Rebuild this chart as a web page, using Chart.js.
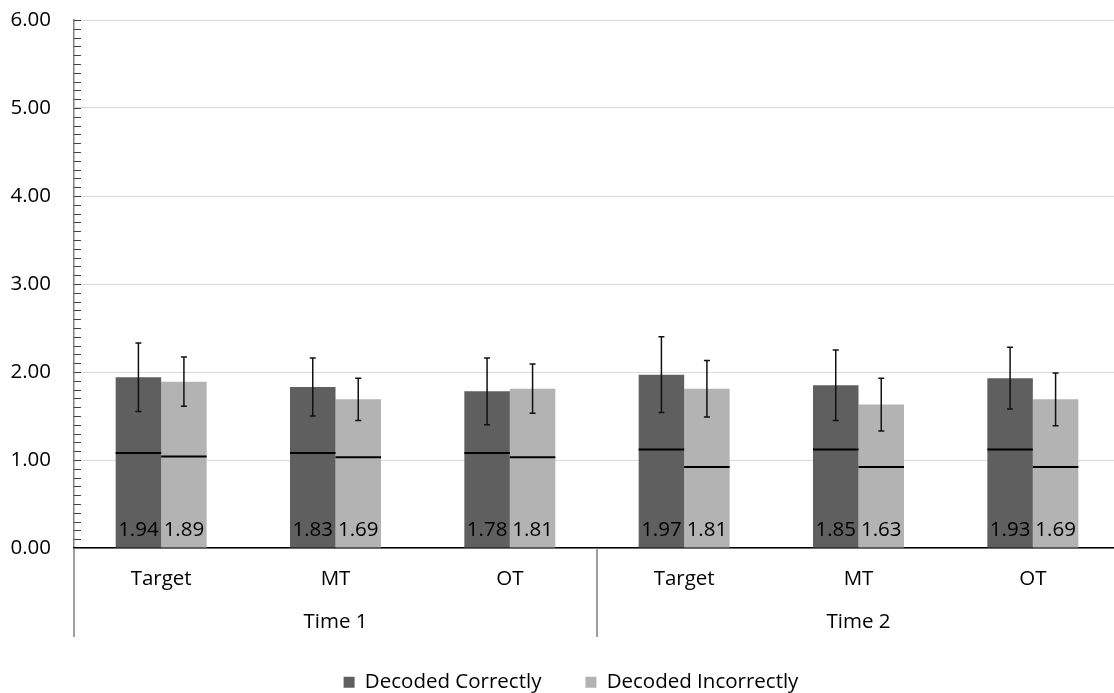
<!DOCTYPE html>
<html>
<head>
<meta charset="utf-8">
<script src="https://cdn.jsdelivr.net/npm/chart.js@4.4.1/dist/chart.umd.min.js"></script>
<style>
  html, body { margin: 0; padding: 0; overflow: hidden; background: #fff; }
  #wrap { width: 1140px; height: 693px; }
</style>
</head>
<body>
<div id="wrap"><canvas id="chart"></canvas></div>
<script>
var categories = ['Target', 'MT', 'OT', 'Target', 'MT', 'OT'];
var groups = ['Time 1', 'Time 2'];
var yTicks = [0, 1, 2, 3, 4, 5, 6];

var correct = [1.94, 1.83, 1.78, 1.97, 1.85, 1.93];
var incorrect = [1.89, 1.69, 1.81, 1.81, 1.63, 1.69];
var correctErr = [0.39, 0.33, 0.38, 0.43, 0.40, 0.35];
var incorrectErr = [0.28, 0.24, 0.28, 0.32, 0.30, 0.30];
var correctLine = [1.08, 1.08, 1.08, 1.12, 1.12, 1.12];
var incorrectLine = [1.04, 1.03, 1.03, 0.92, 0.92, 0.92];

var FONT = 'Open Sans';
var SIZE = 20.5;
Chart.defaults.font.family = FONT;
Chart.defaults.color = '#000';

// error bars, inner lines, value labels, minor ticks and category dividers
var extras = {
  id: 'extras',
  afterLayout: function(chart) {
    // legend sits a little right of the plot centre
    chart.legend.left += 11;
    chart.legend.right += 11;
  },
  afterDatasetsDraw: function(chart) {
    var ctx = chart.ctx, y = chart.scales.y, x = chart.scales.x, x2 = chart.scales.x2;
    var area = chart.chartArea;
    var errs = [correctErr, incorrectErr];
    var lines = [correctLine, incorrectLine];
    ctx.save();
    chart.data.datasets.forEach(function(ds, d) {
      chart.getDatasetMeta(d).data.forEach(function(bar, i) {
        var half = bar.width / 2;
        var ly = y.getPixelForValue(lines[d][i]);
        ctx.strokeStyle = '#000';
        ctx.lineWidth = 2;
        ctx.beginPath();
        ctx.moveTo(bar.x - half, ly);
        ctx.lineTo(bar.x + half, ly);
        ctx.stroke();

        var top = y.getPixelForValue(ds.data[i] + errs[d][i]);
        var bot = y.getPixelForValue(ds.data[i] - errs[d][i]);
        ctx.strokeStyle = '#111';
        ctx.lineWidth = 1.5;
        ctx.beginPath();
        ctx.moveTo(bar.x, top); ctx.lineTo(bar.x, bot);
        ctx.moveTo(bar.x - 3, top); ctx.lineTo(bar.x + 3, top);
        ctx.moveTo(bar.x - 3, bot); ctx.lineTo(bar.x + 3, bot);
        ctx.stroke();

        ctx.fillStyle = '#000';
        ctx.font = SIZE + 'px "' + FONT + '"';
        ctx.textAlign = 'center';
        ctx.textBaseline = 'middle';
        ctx.fillText(ds.data[i].toFixed(2), bar.x, area.bottom - 18);
      });
    });

    ctx.strokeStyle = '#404040';
    ctx.lineWidth = 1.2;
    ctx.beginPath();
    for (var v = 1; v <= 60; v++) {
      var py = Math.round(y.getPixelForValue(v / 10)) + 0.5;
      ctx.moveTo(area.left, py);
      ctx.lineTo(area.left + 7, py);
    }
    ctx.stroke();

    var mid = (x.getPixelForValue(2) + x.getPixelForValue(3)) / 2;
    ctx.strokeStyle = '#808080';
    ctx.lineWidth = 1.5;
    ctx.beginPath();
    [area.left, mid, area.right].forEach(function(px) {
      ctx.moveTo(px, area.bottom);
      ctx.lineTo(px, x2.top + 27);
    });
    ctx.stroke();
    ctx.restore();
  }
};

new Chart(document.getElementById('chart'), {
  type: 'bar',
  data: {
    labels: categories,
    datasets: [
      { label: 'Decoded Correctly', data: correct, backgroundColor: '#5f5f5f', xAxisID: 'x' },
      { label: 'Decoded Incorrectly', data: incorrect, backgroundColor: '#b3b3b3', xAxisID: 'x' }
    ]
  },
  options: {
    responsive: true,
    maintainAspectRatio: false,
    animation: false,
    barPercentage: 1,
    categoryPercentage: 0.522,
    layout: { padding: { top: 20, right: 20, bottom: -9.5, left: 0 } },
    plugins: {
      tooltip: { enabled: false },
      legend: {
        position: 'bottom',
        labels: { boxWidth: 11, boxHeight: 11, padding: 44, color: '#000', font: { size: SIZE } }
      }
    },
    scales: {
      y: {
        min: 0,
        max: 6,
        afterBuildTicks: function(s) { s.ticks = yTicks.map(function(v) { return { value: v }; }); },
        afterFit: function(s) { s.width = 74; },
        ticks: { padding: 0, font: { size: SIZE }, callback: function(v) { return Number(v).toFixed(2); } },
        grid: { color: '#d9d9d9', lineWidth: 1, drawTicks: true, tickLength: 23, tickColor: 'rgba(0,0,0,0)' },
        border: { color: '#808080', width: 1.5 }
      },
      x: {
        afterFit: function(s) { s.height = 62; },
        ticks: { padding: 19, font: { size: SIZE } },
        grid: { display: false, drawTicks: false },
        border: { color: '#000', width: 1.5 }
      },
      x2: {
        type: 'category',
        labels: groups,
        position: 'bottom',
        offset: true,
        afterFit: function(s) { s.height = 18; },
        ticks: { padding: 0, font: { size: SIZE } },
        grid: { display: false, drawTicks: false },
        border: { display: false }
      }
    }
  },
  plugins: [extras]
});
</script>
</body>
</html>
